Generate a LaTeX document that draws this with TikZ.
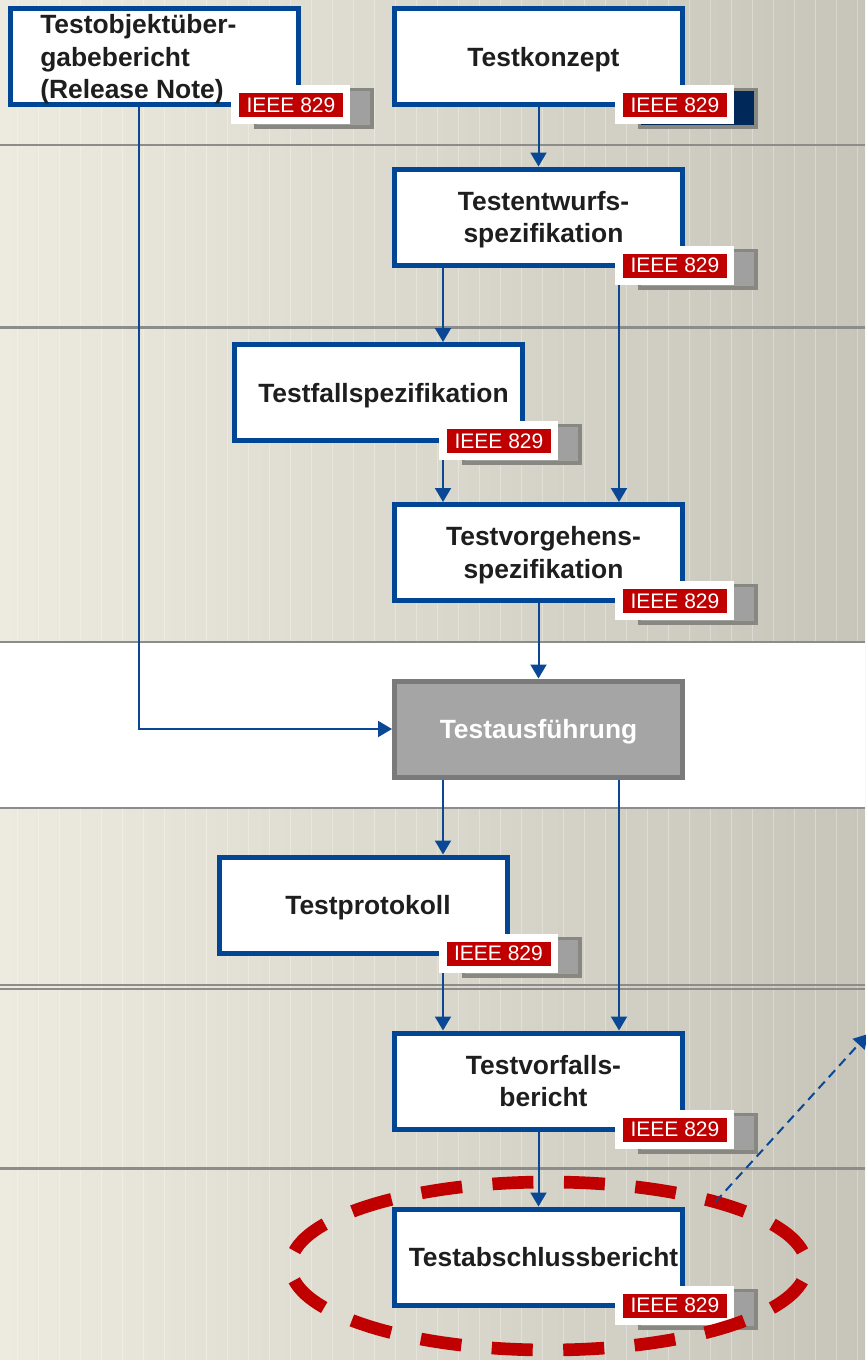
\documentclass[tikz,border=0pt]{standalone}
\usepackage{fontspec}
\setmainfont{Liberation Sans}
\usetikzlibrary{arrows.meta,calc,shapes.geometric}

\definecolor{boxblue}{RGB}{0,70,148}
\definecolor{linkblue}{RGB}{10,72,150}
\definecolor{tagred}{RGB}{192,0,0}
\definecolor{ink}{RGB}{30,30,30}
\definecolor{bgleft}{RGB}{237,235,224}
\definecolor{bgright}{RGB}{199,196,185}
\definecolor{rulegrey}{RGB}{140,140,138}
\definecolor{shadowedge}{RGB}{136,136,130}
\definecolor{shadowfill}{RGB}{160,160,160}
\definecolor{shadownavy}{RGB}{0,40,88}
\definecolor{runfill}{RGB}{165,165,165}
\definecolor{runedge}{RGB}{122,122,122}

% document badge "IEEE 829" with its drop shadow;
% #1 = box name, #2 = horizontal offset of the badge from the box corner, #3 = shadow fill
\newcommand\ieeebadge[3]{%
  \begin{scope}[shift={($(#1.south east)+(#2,-22)$)}]
    \fill[shadowedge] (23,3) rectangle (143,44);
    \fill[#3] (26,6) rectangle (139,40);
    \fill[white] (0,0) rectangle (119,39);
    \node[tag] (#1-tag) at (60,20) {IEEE 829};
  \end{scope}}

\begin{document}
\begin{tikzpicture}[x=0.75pt,y=-0.75pt,
  docbox/.style={draw=boxblue, line width=3.75pt, fill=white,
    minimum width=216pt, minimum height=72pt, inner sep=0pt},
  runbox/.style={docbox, draw=runedge, fill=runfill},
  doctext/.style={inner sep=0pt, text depth=0pt, align=center, text=ink,
    font=\bfseries\fontsize{19.8}{24.4}\selectfont},
  tag/.style={fill=tagred, text=white, inner sep=0pt,
    minimum width=78pt, minimum height=18pt,
    font=\fontsize{15.75}{18}\selectfont},
  link/.style={draw=linkblue, line width=1.5pt,
    -{Triangle[width=12pt,length=10.5pt]}},
  dashlink/.style={draw=linkblue, line width=1.5pt,
    dash pattern=on 7pt off 4.5pt, -{Triangle[width=12pt,length=10.5pt]}},
  focus/.style={ellipse, draw=tagred, line width=9.5pt, inner sep=0pt,
    outer sep=0pt, minimum width=387pt, minimum height=126pt,
    dash pattern=on 30.75pt off 22.9pt, dash phase=42.2pt}]

\useasboundingbox (0,0) rectangle (865,1360);

% background: beige gradient with faint vertical stripes
\shade[left color=bgleft, right color=bgright] (0,0) rectangle (865,1360);
\foreach \sx in {17,38,...,860}
  \draw[white, opacity=0.3, line width=0.75pt] (\sx,0) -- (\sx,1360);
\fill[white] (0,642) rectangle (865,808);

% phase separators
\foreach \ry in {145,327.5,642,808,1168.5}
  \draw[rulegrey, line width=1.9pt] (0,\ry) -- (865,\ry);
\foreach \ry in {985,989}
  \draw[rulegrey, line width=1.4pt] (0,\ry) -- (865,\ry);

% document boxes
\node[docbox] (obj) at (154.5,56.5) {};
\node[docbox] (konzept) at (538.5,56.5) {};
\node[docbox] (entwurf) at (538.5,217) {};
\node[docbox] (fall) at (378.5,392.5) {};
\node[docbox] (vorgehen) at (538.5,552.5) {};
\node[runbox] (ausf) at (538.5,729) {};
\node[docbox] (protokoll) at (363,905) {};
\node[docbox] (vorfall) at (538.5,1081) {};
\node[docbox] (abschluss) at (538.5,1257) {};

% box titles
\node[doctext, align=left, anchor=west] (obj-t) at ([xshift=24pt]obj.west)
  {Testobjektüber-\\gabebericht\\(Release Note)};
\node[doctext] (konzept-t) at ([xshift=3.75pt]konzept.center) {Testkonzept};
\node[doctext] (entwurf-t) at ([xshift=3.75pt]entwurf.center) {Testentwurfs-\\spezifikation};
\node[doctext] (fall-t) at ([xshift=3.75pt]fall.center) {Testfallspezifikation};
\node[doctext] (vorgehen-t) at ([xshift=3.75pt]vorgehen.center) {Testvorgehens-\\spezifikation};
\node[doctext, text=white] (ausf-t) at (ausf.center) {Testausführung};
\node[doctext] (protokoll-t) at ([xshift=3.75pt]protokoll.center) {Testprotokoll};
\node[doctext] (vorfall-t) at ([xshift=3.75pt]vorfall.center) {Testvorfalls-\\bericht};
\node[doctext] (abschluss-t) at ([xshift=3.75pt]abschluss.center) {Testabschlussbericht};

% connector columns
\coordinate (colO) at (139,0);
\coordinate (colL) at (443,0);
\coordinate (colR) at (619,0);

% connectors
\draw[link] (obj.south -| colO) |- (ausf.west);
\draw[link] (konzept.south) -- (entwurf.north);
\draw[link] (entwurf.south -| colL) -- (fall.north -| colL);
\draw[link] (entwurf.south -| colR) -- (vorgehen.north -| colR);
\draw[link] (fall.south -| colL) -- (vorgehen.north -| colL);
\draw[link] (vorgehen.south) -- (ausf.north);
\draw[link] (ausf.south -| colL) -- (protokoll.north -| colL);
\draw[link] (ausf.south -| colR) -- (vorfall.north -| colR);
\draw[link] (protokoll.south -| colL) -- (vorfall.north -| colL);
\draw[link] (vorfall.south) -- (abschluss.north);

% standard badges
\ieeebadge{obj}{-70}{shadowfill}
\ieeebadge{konzept}{-70}{shadownavy}
\ieeebadge{entwurf}{-70}{shadowfill}
\ieeebadge{fall}{-86}{shadowfill}
\ieeebadge{vorgehen}{-70}{shadowfill}
\ieeebadge{protokoll}{-71}{shadowfill}
\ieeebadge{vorfall}{-70}{shadowfill}
\ieeebadge{abschluss}{-70}{shadowfill}

% highlight of the final report
\node[focus] (hl) at (548.5,1266) {};
\coordinate (away) at (868,1034);
\draw[dashlink] (hl.21) -- (away);

\end{tikzpicture}
\end{document}
